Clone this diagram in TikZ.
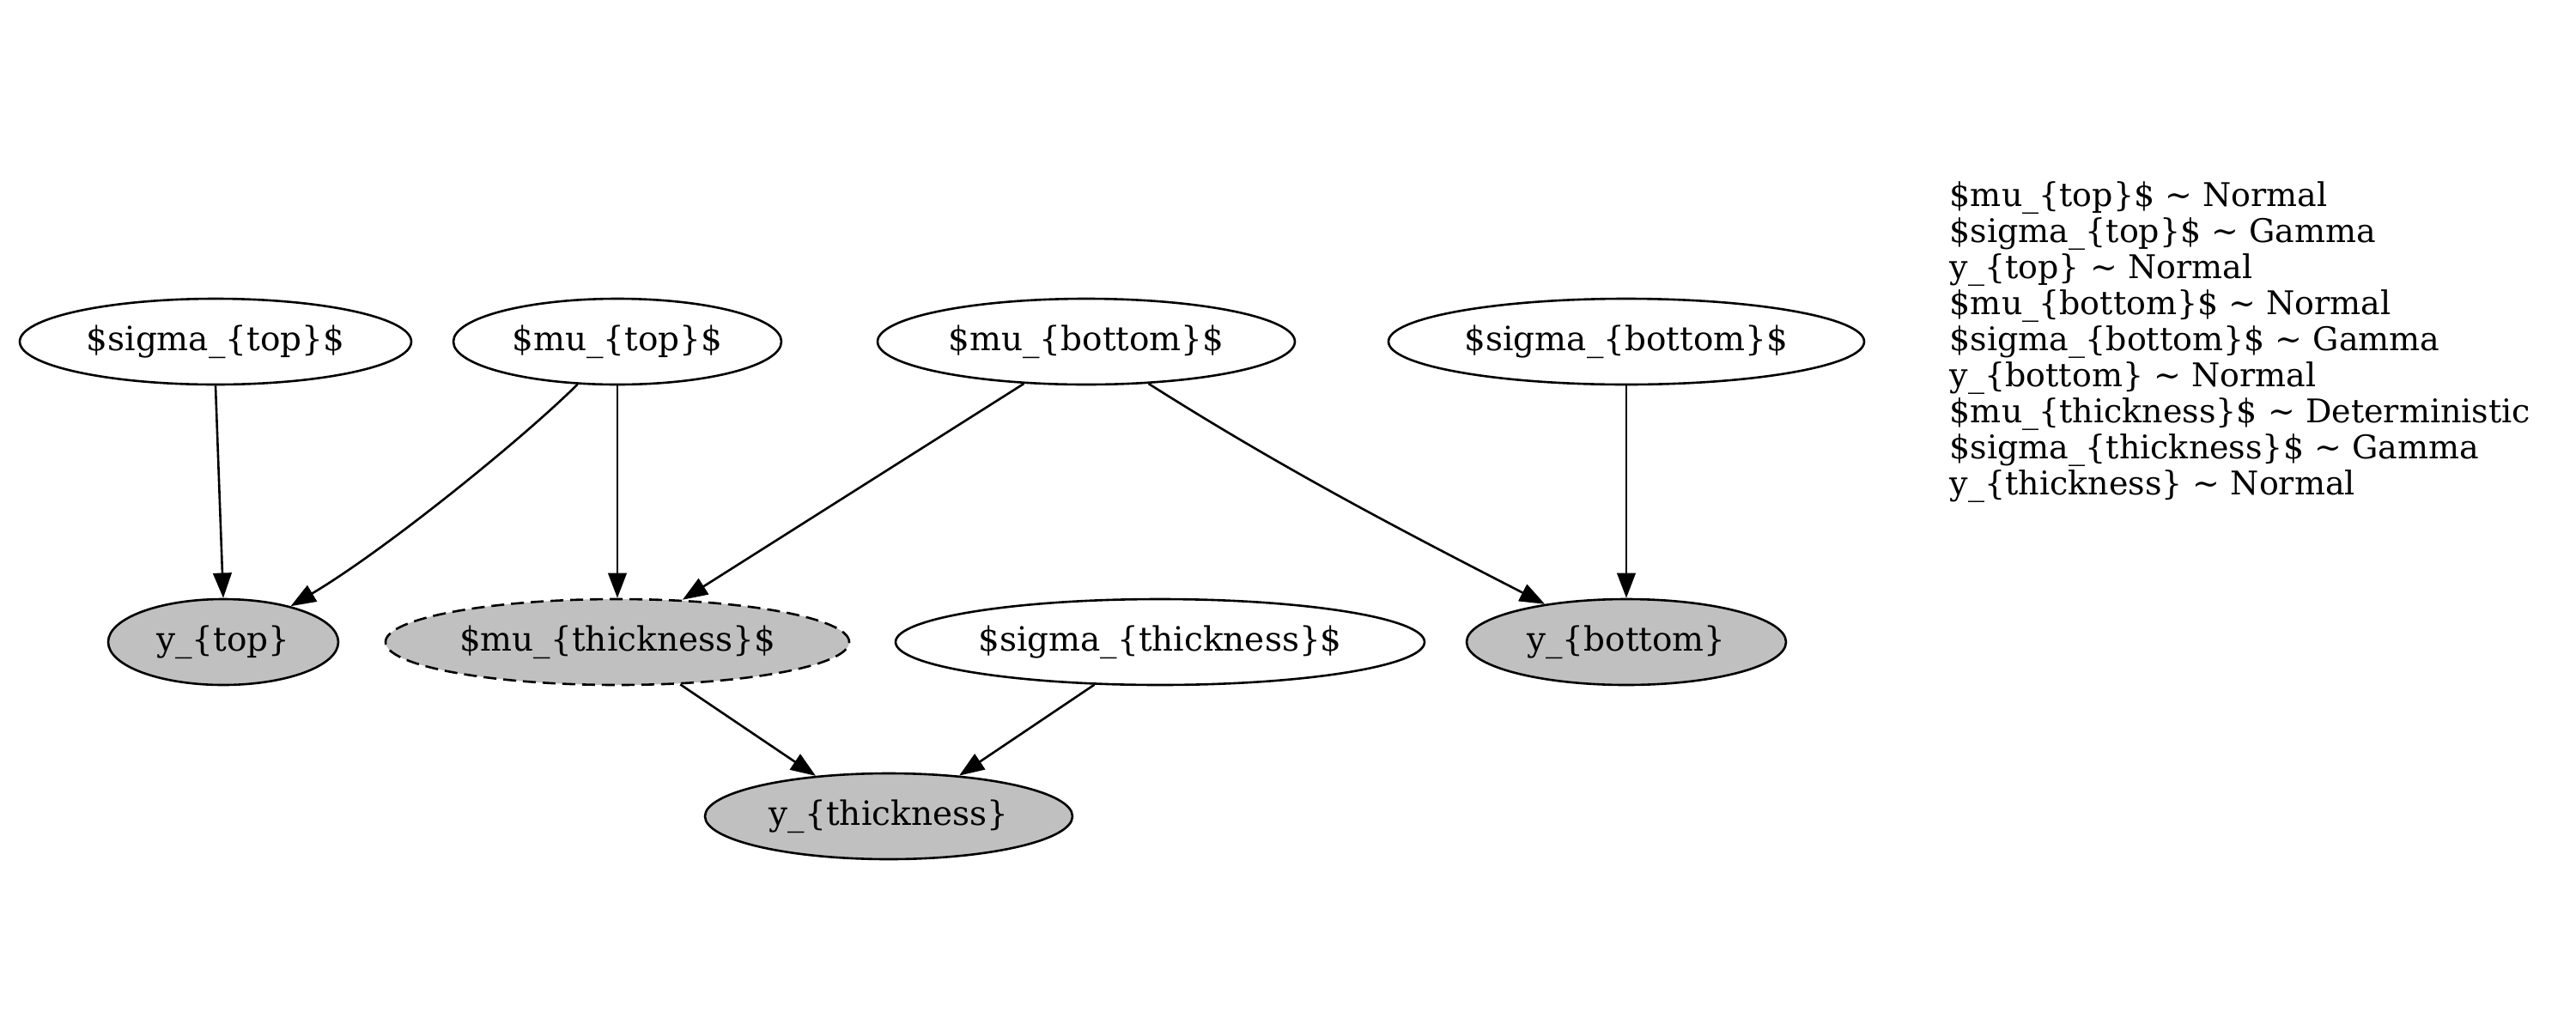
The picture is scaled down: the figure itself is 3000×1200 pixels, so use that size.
\documentclass[tikz,border=0pt]{standalone}
\usepackage{fontspec}
\setmainfont{DejaVu Serif}
\usetikzlibrary{shapes.geometric,arrows.meta}
\definecolor{obsgray}{RGB}{192,192,192}
\begin{document}
\begin{tikzpicture}[x=0.25pt,y=-0.25pt,
  var/.style={ellipse, draw, line width=0.65pt, inner sep=0pt, minimum height=25pt, font=\fontsize{9.75}{11}\selectfont},
  obs/.style={var, fill=obsgray},
  detvar/.style={var, fill=obsgray, dash pattern=on 3.75pt off 2pt},
  edge/.style={line width=0.65pt, -{Triangle[length=7.3pt,width=5.4pt]}},
  legendline/.style={anchor=base west, inner sep=0pt, font=\fontsize{9.5}{10.5}\selectfont}
]
\useasboundingbox (0,0) rectangle (3000,1200);
% top row
\node[var, minimum width=114pt] (sigmatop) at (251,398) {\$sigma\_\{top\}\$};
\node[var, minimum width=95.5pt] (mutop) at (719,398) {\$mu\_\{top\}\$};
\node[var, minimum width=121.5pt] (mubottom) at (1265,398) {\$mu\_\{bottom\}\$};
\node[var, minimum width=138.5pt] (sigmabottom) at (1894,398) {\$sigma\_\{bottom\}\$};
% middle row
\node[obs, minimum width=67pt] (ytop) at (260,748) {y\_\{top\}};
\node[detvar, minimum width=135pt] (muthick) at (719,748) {\$mu\_\{thickness\}\$};
\node[var, minimum width=154pt] (sigmathick) at (1351,748) {\$sigma\_\{thickness\}\$};
\node[obs, minimum width=93pt] (ybottom) at (1894,748) {y\_\{bottom\}};
% bottom row
\node[obs, minimum width=107pt] (ythick) at (1035,951) {y\_\{thickness\}};
% edges
\draw[edge] (sigmatop.south) -- (ytop.north);
\draw[edge] (mutop.227) .. controls (610,510) and (450,640) .. (ytop.28);
\draw[edge] (mutop.south) -- (muthick.north);
\draw[edge] (mubottom.214) -- (muthick.33);
\draw[edge] (mubottom.326) .. controls (1489,543) and (1624,614) .. (ybottom.155);
\draw[edge] (sigmabottom.south) -- (ybottom.north);
\draw[edge] (muthick.326) -- (ythick.151);
\draw[edge] (sigmathick.213) -- (ythick.30);
% legend
\node[legendline] (l1) at (2270,240) {\$mu\_\{top\}\$ \textasciitilde{} Normal};
\node[legendline] (l2) at (2270,282) {\$sigma\_\{top\}\$ \textasciitilde{} Gamma};
\node[legendline] (l3) at (2270,324) {y\_\{top\} \textasciitilde{} Normal};
\node[legendline] (l4) at (2270,366) {\$mu\_\{bottom\}\$ \textasciitilde{} Normal};
\node[legendline] (l5) at (2270,408) {\$sigma\_\{bottom\}\$ \textasciitilde{} Gamma};
\node[legendline] (l6) at (2270,450) {y\_\{bottom\} \textasciitilde{} Normal};
\node[legendline] (l7) at (2270,492) {\$mu\_\{thickness\}\$ \textasciitilde{} Deterministic};
\node[legendline] (l8) at (2270,534) {\$sigma\_\{thickness\}\$ \textasciitilde{} Gamma};
\node[legendline] (l9) at (2270,576) {y\_\{thickness\} \textasciitilde{} Normal};
\end{tikzpicture}
\end{document}
